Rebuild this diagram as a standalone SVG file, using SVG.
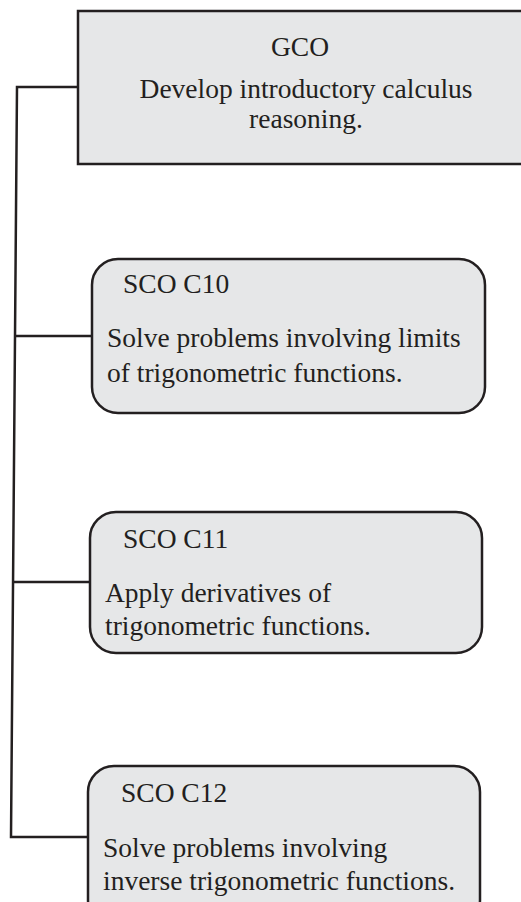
<svg xmlns="http://www.w3.org/2000/svg" width="521" height="902" viewBox="0 0 521 902">
<style>
.box{fill:#e6e7e8;stroke:#231f20;stroke-width:2.5}
.conn{fill:none;stroke:#231f20;stroke-width:2.5}
text{font-family:"Liberation Serif","Times New Roman",serif;font-size:27.5px;fill:#231f20}
.c{text-anchor:middle}
</style>
<rect width="521" height="902" fill="#ffffff"/>
<g id="connectors">
<polyline class="conn" points="78,87 17,87 11,837 88,837"/>
<line class="conn" x1="16" y1="336" x2="92" y2="336"/>
<line class="conn" x1="14" y1="582" x2="90" y2="582"/>
</g>
<g id="gco">
<rect class="box" x="78" y="11" width="460" height="153"/>
<text class="c" x="300" y="56">GCO</text>
<text class="c" x="306" y="98">Develop introductory calculus</text>
<text class="c" x="306" y="128">reasoning.</text>
</g>
<g id="sco-c10">
<rect class="box" x="92" y="259" width="393" height="154" rx="26" ry="26"/>
<text x="123" y="293">SCO C10</text>
<text x="107" y="347">Solve problems involving limits</text>
<text x="107" y="382">of trigonometric functions.</text>
</g>
<g id="sco-c11">
<rect class="box" x="90" y="512" width="392" height="141" rx="26" ry="26"/>
<text x="123" y="548">SCO C11</text>
<text x="105" y="602">Apply derivatives of</text>
<text x="105" y="635">trigonometric functions.</text>
</g>
<g id="sco-c12">
<rect class="box" x="88" y="766" width="392" height="160" rx="26" ry="26"/>
<text x="121" y="802">SCO C12</text>
<text x="103" y="857">Solve problems involving</text>
<text x="103" y="890">inverse trigonometric functions.</text>
</g>
</svg>
